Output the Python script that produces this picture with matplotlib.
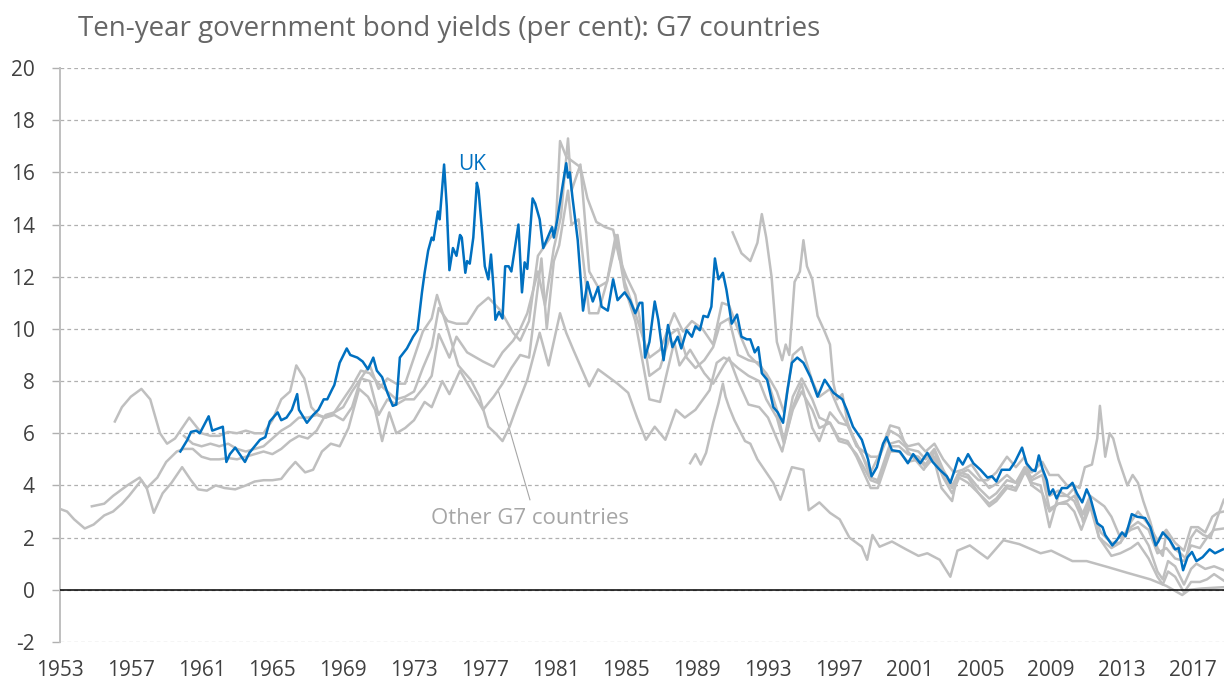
import matplotlib
matplotlib.use("Agg")
import matplotlib.pyplot as plt

# UK ten-year yield (per cent)
uk_years = [1959.8, 1960.2, 1960.4, 1960.7, 1960.9, 1961.4, 1961.6, 1962.2, 1962.4, 1962.6,
            1962.9, 1963.45, 1963.7, 1964.3, 1964.6, 1964.85, 1965.3, 1965.5, 1965.8, 1966.1,
            1966.4, 1966.5, 1966.95, 1967.3, 1967.6, 1967.9, 1968.1, 1968.35, 1968.5, 1968.8,
            1969.2, 1969.4, 1969.8, 1970.1, 1970.4, 1970.7, 1970.9, 1971.2, 1971.5, 1971.8,
            1972.0, 1972.2, 1972.6, 1972.95, 1973.2, 1973.45, 1973.6, 1973.8, 1974.0, 1974.1,
            1974.35, 1974.45, 1974.7, 1974.85, 1975.0, 1975.2, 1975.4, 1975.6, 1975.7, 1975.9,
            1976.0, 1976.15, 1976.35, 1976.55, 1976.65, 1976.85, 1977.0, 1977.2, 1977.35, 1977.5,
            1977.6, 1977.8, 1978.0, 1978.15, 1978.35, 1978.5, 1978.7, 1978.9, 1979.1, 1979.25,
            1979.4, 1979.7, 1979.85, 1980.1, 1980.3, 1980.55, 1980.8, 1980.9, 1981.1, 1981.35,
            1981.6, 1981.7, 1981.8, 1981.95, 1982.25, 1982.55, 1982.8, 1982.95, 1983.1, 1983.4,
            1983.6, 1983.95, 1984.25, 1984.5, 1984.9, 1985.2, 1985.5, 1985.75, 1985.9, 1986.05,
            1986.3, 1986.6, 1986.8, 1987.1, 1987.35, 1987.6, 1987.9, 1988.1, 1988.4, 1988.7,
            1988.9, 1989.15, 1989.35, 1989.6, 1989.8, 1990.0, 1990.2, 1990.45, 1990.65, 1990.95,
            1991.25, 1991.5, 1991.8, 1992.0, 1992.25, 1992.45, 1992.65, 1992.95, 1993.3, 1993.55,
            1993.85, 1994.1, 1994.35, 1994.65, 1995.0, 1995.4, 1995.8, 1996.2, 1996.7, 1997.2,
            1997.45, 1997.8, 1998.3, 1998.65, 1998.85, 1999.15, 1999.5, 1999.7, 2000.0, 2000.45,
            2000.9, 2001.2, 2001.6, 2002.0, 2002.3, 2002.7, 2003.1, 2003.3, 2003.55, 2003.75,
            2004.0, 2004.3, 2004.6, 2005.0, 2005.4, 2005.65, 2005.9, 2006.2, 2006.65, 2006.95,
            2007.35, 2007.6, 2007.9, 2008.1, 2008.3, 2008.5, 2008.75, 2008.9, 2009.1, 2009.3,
            2009.6, 2009.9, 2010.2, 2010.45, 2010.75, 2011.0, 2011.2, 2011.6, 2011.9, 2012.05,
            2012.45, 2012.7, 2013.0, 2013.2, 2013.55, 2013.85, 2014.3, 2014.6, 2014.9, 2015.05,
            2015.3, 2015.5, 2015.7, 2016.0, 2016.2, 2016.45, 2016.7, 2016.95, 2017.2, 2017.55,
            2017.95, 2018.25, 2018.7]
uk_yields = [5.3, 5.75, 6.05, 6.1, 6.0, 6.65, 6.1, 6.25, 4.9, 5.2,
             5.45, 4.9, 5.25, 5.75, 5.85, 6.45, 6.8, 6.5, 6.6, 6.9,
             7.5, 6.9, 6.4, 6.7, 6.9, 7.3, 7.3, 7.65, 7.85, 8.7,
             9.25, 9.0, 8.9, 8.75, 8.45, 8.9, 8.4, 8.15, 7.55, 7.05,
             7.1, 8.9, 9.25, 9.7, 9.95, 11.4, 12.15, 13.0, 13.5, 13.4,
             14.5, 14.2, 16.3, 14.7, 12.25, 13.1, 12.8, 13.6, 13.5, 12.15,
             12.6, 12.5, 13.5, 15.6, 15.3, 13.7, 12.4, 11.9, 12.85, 11.5,
             10.35, 10.65, 10.4, 12.4, 12.4, 12.2, 13.1, 14.0, 11.4, 12.55,
             12.3, 15.0, 14.8, 14.2, 13.1, 13.5, 13.9, 13.5, 14.2, 15.3,
             16.35, 15.8, 16.0, 15.05, 13.4, 10.7, 11.8, 11.4, 11.05, 11.6,
             10.85, 10.7, 11.9, 11.1, 11.4, 11.1, 10.6, 11.0, 11.0, 8.9,
             9.5, 11.05, 10.35, 8.8, 10.15, 9.3, 9.7, 9.25, 9.95, 9.7,
             10.1, 9.95, 10.5, 10.45, 10.85, 12.7, 11.9, 12.15, 11.5, 10.2,
             10.55, 9.7, 9.6, 9.6, 9.1, 9.3, 8.3, 8.05, 7.0, 6.8,
             6.4, 7.65, 8.7, 8.9, 8.7, 8.15, 7.4, 8.05, 7.55, 7.3,
             6.9, 6.25, 5.75, 5.0, 4.35, 4.7, 5.6, 5.85, 5.35, 5.3,
             4.85, 5.2, 4.85, 5.25, 4.9, 4.6, 4.35, 4.1, 4.6, 5.05,
             4.8, 5.2, 4.85, 4.6, 4.3, 4.35, 4.15, 4.6, 4.6, 4.9,
             5.45, 4.85, 4.6, 4.55, 5.15, 4.65, 4.2, 3.65, 3.85, 3.5,
             3.9, 3.9, 4.1, 3.7, 3.35, 3.85, 3.55, 2.55, 2.4, 2.1,
             1.7, 1.9, 2.2, 2.05, 2.9, 2.8, 2.75, 2.4, 1.7, 1.85,
             2.2, 2.05, 1.9, 1.55, 1.6, 0.75, 1.25, 1.45, 1.1, 1.25,
             1.55, 1.4, 1.55]

# other G7 countries (all drawn in grey)
us_years = [1953.0, 1953.4, 1953.8, 1954.4, 1954.9, 1955.5, 1956.0, 1956.5, 1956.9, 1957.6,
            1957.9, 1958.3, 1958.8, 1959.3, 1959.9, 1960.4, 1960.8, 1961.3, 1961.8, 1962.3,
            1962.9, 1963.5, 1964.0, 1964.5, 1965.0, 1965.5, 1965.9, 1966.3, 1966.85, 1967.3,
            1967.8, 1968.3, 1968.8, 1969.3, 1969.9, 1970.4, 1970.8, 1971.2, 1971.6, 1972.0,
            1972.5, 1973.0, 1973.6, 1974.0, 1974.6, 1975.0, 1975.6, 1976.2, 1976.9, 1977.5,
            1978.0, 1978.5, 1979.0, 1979.5, 1980.2, 1980.5, 1980.9, 1981.2, 1981.7, 1981.9,
            1982.3, 1982.9, 1983.4, 1983.9, 1984.4, 1984.9, 1985.5, 1986.3, 1986.9, 1987.7,
            1988.0, 1988.6, 1989.4, 1989.9, 1990.5, 1990.8, 1991.3, 1991.9, 1992.5, 1993.0,
            1993.8, 1994.4, 1994.9, 1995.5, 1995.9, 1996.5, 1997.0, 1997.5, 1998.0, 1998.8,
            1999.3, 1999.9, 2000.4, 2000.9, 2001.3, 2001.8, 2002.3, 2002.8, 2003.4, 2003.7,
            2004.3, 2004.9, 2005.4, 2005.9, 2006.5, 2007.0, 2007.5, 2007.9, 2008.4, 2008.9,
            2009.4, 2009.9, 2010.3, 2010.8, 2011.2, 2011.7, 2012.4, 2012.9, 2013.5, 2013.9,
            2014.5, 2015.0, 2015.5, 2016.0, 2016.5, 2016.9, 2017.3, 2017.7, 2018.1, 2018.4,
            2018.75]
us_yields = [3.1, 3.0, 2.7, 2.35, 2.5, 2.85, 3.0, 3.3, 3.6, 4.2,
             3.9, 2.95, 3.7, 4.1, 4.7, 4.2, 3.85, 3.8, 4.0, 3.9,
             3.85, 4.0, 4.15, 4.2, 4.2, 4.25, 4.6, 4.9, 4.5, 4.6,
             5.3, 5.6, 5.5, 6.2, 7.7, 7.4, 6.9, 5.7, 6.8, 6.0,
             6.2, 6.5, 7.2, 7.0, 8.0, 7.5, 8.4, 7.7, 6.9, 7.4,
             7.9, 8.5, 9.0, 8.9, 12.7, 10.0, 12.6, 13.2, 15.3, 14.0,
             14.2, 10.6, 10.6, 11.8, 13.6, 11.6, 10.3, 7.3, 7.2, 9.5,
             8.6, 9.2, 8.3, 7.9, 8.6, 8.9, 8.0, 7.1, 7.0, 6.6,
             5.3, 7.0, 7.9, 6.2, 5.7, 6.8, 6.4, 6.3, 5.6, 4.5,
             5.2, 6.3, 6.2, 5.3, 5.0, 4.6, 5.2, 3.9, 3.4, 4.4,
             4.6, 4.2, 4.2, 4.5, 5.1, 4.7, 5.1, 4.1, 4.0, 2.4,
             3.6, 3.6, 3.9, 2.6, 3.5, 2.0, 1.6, 1.8, 2.6, 3.0,
             2.5, 1.9, 2.3, 1.8, 1.5, 2.4, 2.4, 2.2, 2.8, 2.95,
             3.0]

canada_years = [1954.8, 1955.5, 1956.0, 1956.8, 1957.5, 1957.9, 1958.5, 1959.0, 1959.6, 1960.0,
                1960.5, 1961.0, 1961.5, 1962.0, 1962.5, 1963.0, 1963.5, 1964.0, 1964.5, 1965.0,
                1965.5, 1966.0, 1966.5, 1967.0, 1967.5, 1968.0, 1968.5, 1969.0, 1969.5, 1970.0,
                1970.5, 1971.0, 1971.5, 1972.0, 1972.5, 1973.0, 1973.6, 1974.0, 1974.4, 1975.0,
                1975.4, 1976.0, 1976.9, 1977.5, 1978.0, 1978.6, 1979.0, 1979.4, 1980.0, 1980.4,
                1980.9, 1981.3, 1981.7, 1981.9, 1982.4, 1982.9, 1983.4, 1983.9, 1984.5, 1984.9,
                1985.5, 1986.3, 1986.9, 1987.7, 1988.2, 1988.7, 1989.3, 1989.9, 1990.4, 1990.8,
                1991.4, 1991.9, 1992.5, 1992.9, 1993.5, 1993.9, 1994.4, 1994.9, 1995.5, 1995.9,
                1996.5, 1997.0, 1997.5, 1998.0, 1998.8, 1999.3, 1999.9, 2000.4, 2000.9, 2001.5,
                2001.9, 2002.4, 2002.9, 2003.5, 2004.0, 2004.5, 2005.0, 2005.5, 2006.0, 2006.5,
                2007.0, 2007.5, 2007.9, 2008.5, 2008.9, 2009.4, 2009.9, 2010.3, 2010.8, 2011.2,
                2011.8, 2012.4, 2012.9, 2013.5, 2013.9, 2014.5, 2015.0, 2015.5, 2016.0, 2016.5,
                2016.9, 2017.4, 2017.8, 2018.2, 2018.75]
canada_yields = [3.2, 3.3, 3.6, 4.0, 4.3, 3.9, 4.3, 4.9, 5.3, 5.4,
                 5.4, 5.1, 5.0, 5.0, 5.05, 5.0, 5.1, 5.2, 5.3, 5.2,
                 5.4, 5.7, 5.9, 5.8, 6.1, 6.7, 6.8, 7.0, 7.6, 8.1,
                 8.0, 6.7, 7.3, 7.1, 7.3, 7.3, 7.8, 8.2, 9.8, 8.9,
                 9.7, 9.1, 8.75, 8.55, 9.1, 9.55, 10.0, 10.6, 12.2, 10.9,
                 13.1, 14.3, 17.3, 15.3, 16.3, 12.2, 11.6, 11.8, 13.6, 11.8,
                 10.6, 8.9, 9.2, 10.6, 9.9, 10.3, 10.0, 9.4, 11.0, 10.9,
                 9.8, 9.0, 8.6, 8.3, 7.6, 6.8, 9.0, 9.3, 8.0, 7.4,
                 7.7, 6.9, 6.3, 5.5, 5.1, 5.1, 6.1, 5.9, 5.5, 5.6,
                 5.3, 5.6, 5.0, 4.5, 4.6, 4.8, 4.3, 3.9, 4.1, 4.4,
                 4.1, 4.6, 4.0, 3.7, 3.0, 3.3, 3.4, 3.6, 2.9, 3.3,
                 2.2, 1.8, 1.8, 2.4, 2.6, 2.3, 1.4, 1.6, 1.2, 1.1,
                 1.7, 1.6, 2.0, 2.3, 2.35]

germany_years = [1956.1, 1956.5, 1957.0, 1957.6, 1958.1, 1958.65, 1959.05, 1959.5, 1960.0, 1960.3,
                 1961.0, 1961.5, 1962.0, 1962.5, 1963.0, 1963.5, 1964.0, 1964.5, 1965.0, 1965.5,
                 1966.0, 1966.35, 1966.8, 1967.2, 1967.6, 1968.0, 1968.5, 1969.0, 1969.5, 1970.0,
                 1970.5, 1971.0, 1971.5, 1972.0, 1972.5, 1973.0, 1973.5, 1974.0, 1974.3, 1974.9,
                 1975.5, 1976.2, 1976.7, 1977.2, 1977.6, 1978.0, 1978.4, 1978.8, 1979.4, 1980.1,
                 1980.6, 1981.25, 1981.6, 1982.0, 1982.9, 1983.4, 1984.0, 1984.5, 1985.1, 1985.6,
                 1986.1, 1986.6, 1987.2, 1987.8, 1988.3, 1988.9, 1989.7, 1990.1, 1990.5, 1990.8,
                 1991.3, 1991.9, 1992.5, 1992.9, 1993.5, 1993.9, 1994.4, 1994.9, 1995.5, 1995.9,
                 1996.5, 1997.0, 1997.5, 1998.0, 1998.8, 1999.2, 1999.9, 2000.4, 2000.9, 2001.5,
                 2001.9, 2002.4, 2002.9, 2003.4, 2003.8, 2004.3, 2004.9, 2005.5, 2005.9, 2006.5,
                 2007.0, 2007.5, 2007.9, 2008.5, 2008.9, 2009.4, 2009.9, 2010.3, 2010.7, 2011.2,
                 2011.7, 2012.4, 2012.9, 2013.5, 2013.9, 2014.5, 2015.0, 2015.3, 2015.6, 2016.0,
                 2016.5, 2016.9, 2017.4, 2017.8, 2018.2, 2018.75]
germany_yields = [6.45, 7.0, 7.4, 7.7, 7.3, 6.0, 5.6, 5.8, 6.3, 6.6,
                  6.0, 5.9, 5.9, 6.05, 6.0, 6.1, 6.0, 6.0, 6.5, 7.3,
                  7.6, 8.6, 8.1, 7.0, 6.7, 6.6, 6.7, 6.5, 7.0, 8.1,
                  8.6, 7.7, 8.1, 7.9, 7.9, 8.9, 9.9, 10.4, 11.3, 10.0,
                  8.6, 8.05, 7.4, 6.25, 6.0, 5.7, 6.25, 7.0, 8.05, 9.85,
                  8.6, 10.6, 9.85, 9.2, 7.8, 8.45, 8.15, 7.9, 7.55, 6.6,
                  5.75, 6.25, 5.75, 6.9, 6.6, 6.9, 7.65, 8.7, 8.9, 8.8,
                  8.5, 8.2, 8.0, 7.3, 6.6, 5.6, 6.9, 7.6, 6.9, 6.2,
                  6.4, 5.8, 5.7, 5.1, 3.9, 3.9, 5.3, 5.3, 4.9, 5.0,
                  4.7, 5.1, 4.3, 3.7, 4.3, 4.1, 3.7, 3.2, 3.4, 3.9,
                  3.8, 4.5, 4.2, 4.4, 3.1, 3.3, 3.3, 3.0, 2.3, 3.2,
                  2.0, 1.3, 1.4, 1.6, 1.8, 1.2, 0.5, 0.2, 0.7, 0.5,
                  -0.1, 0.3, 0.3, 0.4, 0.6, 0.35]

france_years = [1960.0, 1960.5, 1961.0, 1961.5, 1962.0, 1962.5, 1963.0, 1963.5, 1964.0, 1964.5,
                1965.0, 1965.5, 1966.0, 1966.5, 1967.0, 1967.5, 1968.0, 1968.5, 1969.0, 1969.5,
                1970.0, 1970.5, 1971.0, 1971.5, 1972.0, 1972.5, 1973.0, 1973.5, 1974.0, 1974.4,
                1974.9, 1975.4, 1976.0, 1976.6, 1977.2, 1977.9, 1978.6, 1979.0, 1979.5, 1980.0,
                1980.5, 1981.0, 1981.25, 1981.6, 1982.0, 1982.4, 1982.8, 1983.3, 1983.8, 1984.25,
                1984.6, 1985.0, 1985.5, 1986.0, 1986.3, 1986.9, 1987.5, 1987.9, 1988.4, 1988.9,
                1989.4, 1989.9, 1990.3, 1990.8, 1991.3, 1991.9, 1992.5, 1992.9, 1993.5, 1993.9,
                1994.4, 1994.9, 1995.5, 1995.9, 1996.5, 1997.0, 1997.5, 1998.0, 1998.8, 1999.2,
                1999.9, 2000.4, 2000.9, 2001.5, 2001.9, 2002.4, 2002.9, 2003.4, 2003.8, 2004.3,
                2004.9, 2005.5, 2005.9, 2006.5, 2007.0, 2007.5, 2007.9, 2008.5, 2008.9, 2009.4,
                2009.9, 2010.3, 2010.7, 2011.2, 2011.8, 2012.0, 2012.4, 2012.9, 2013.5, 2013.9,
                2014.5, 2015.0, 2015.3, 2015.6, 2016.0, 2016.5, 2016.9, 2017.2, 2017.7, 2018.2,
                2018.75]
france_yields = [5.9, 5.6, 5.5, 5.6, 5.5, 5.6, 5.4, 5.3, 5.4, 5.5,
                 5.8, 6.1, 6.3, 6.6, 6.6, 6.7, 6.6, 6.8, 7.3, 7.8,
                 8.4, 8.3, 7.9, 7.6, 7.3, 7.4, 7.6, 8.5, 9.3, 10.8,
                 10.3, 10.2, 10.2, 10.85, 11.2, 10.7, 9.85, 9.55, 10.3, 12.8,
                 13.3, 13.8, 17.2, 16.6, 16.4, 16.2, 15.0, 14.1, 13.9, 13.8,
                 12.7, 12.0, 11.3, 9.5, 8.2, 8.5, 9.8, 10.0, 8.9, 8.5,
                 8.8, 9.3, 10.2, 10.4, 9.0, 8.8, 8.7, 8.2, 6.9, 5.7,
                 7.4, 8.1, 7.3, 6.6, 6.4, 5.7, 5.6, 5.2, 4.2, 4.1,
                 5.5, 5.5, 5.2, 5.1, 4.8, 5.3, 4.4, 3.9, 4.4, 4.3,
                 3.7, 3.3, 3.5, 4.0, 3.9, 4.6, 4.3, 4.6, 3.6, 3.8,
                 3.6, 3.4, 2.8, 3.6, 3.3, 3.2, 2.8, 2.0, 2.3, 2.4,
                 1.7, 0.7, 0.4, 1.1, 0.9, 0.2, 0.8, 1.0, 0.8, 0.9,
                 0.75]

italy_years = [1991.0, 1991.5, 1992.0, 1992.4, 1992.65, 1992.9, 1993.2, 1993.5, 1993.8, 1994.0,
               1994.2, 1994.5, 1994.8, 1995.0, 1995.2, 1995.5, 1995.8, 1996.2, 1996.5, 1996.7,
               1996.9, 1997.2, 1997.5, 1997.9, 1998.3, 1998.8, 1999.2, 1999.9, 2000.4, 2000.9,
               2001.5, 2001.9, 2002.4, 2002.9, 2003.4, 2003.8, 2004.3, 2004.9, 2005.5, 2005.9,
               2006.5, 2007.0, 2007.5, 2007.9, 2008.5, 2008.9, 2009.4, 2009.9, 2010.3, 2010.6,
               2010.9, 2011.3, 2011.6, 2011.75, 2012.05, 2012.3, 2012.5, 2012.8, 2013.3, 2013.6,
               2013.9, 2014.2, 2014.6, 2015.0, 2015.3, 2015.5, 2015.9, 2016.3, 2016.6, 2016.9,
               2017.2, 2017.6, 2018.0, 2018.4, 2018.75]
italy_yields = [13.7, 12.9, 12.6, 13.3, 14.4, 13.5, 12.0, 9.5, 8.8, 9.4,
                9.0, 11.8, 12.2, 13.4, 12.4, 11.9, 10.5, 9.9, 9.4, 7.9,
                7.3, 7.5, 6.4, 5.7, 5.2, 4.3, 4.2, 5.6, 5.7, 5.4,
                5.3, 5.0, 5.4, 4.6, 4.0, 4.5, 4.4, 3.9, 3.5, 3.7,
                4.2, 4.1, 4.7, 4.5, 4.9, 4.4, 4.4, 4.0, 4.0, 3.9,
                4.7, 4.8, 5.8, 7.05, 5.1, 6.0, 5.8, 5.0, 4.0, 4.4,
                4.1, 3.4, 2.6, 1.6, 1.3, 2.2, 1.6, 1.4, 1.2, 2.0,
                2.3, 2.1, 2.0, 2.8, 3.45]

japan_years = [1988.6, 1988.9, 1989.2, 1989.5, 1989.9, 1990.2, 1990.45, 1990.6, 1990.8, 1991.1,
               1991.4, 1991.7, 1992.0, 1992.4, 1992.7, 1993.3, 1993.7, 1994.35, 1995.0, 1995.3,
               1995.9, 1996.5, 1997.05, 1997.6, 1998.3, 1998.6, 1998.9, 1999.3, 2000.0, 2000.8,
               2001.5, 2002.0, 2002.7, 2003.3, 2003.7, 2004.4, 2005.4, 2006.3, 2007.2, 2008.4,
               2009.0, 2010.2, 2011.0, 2012.3, 2013.3, 2014.6, 2015.5, 2016.4, 2016.8, 2017.5,
               2018.75]
japan_yields = [4.85, 5.2, 4.8, 5.25, 6.4, 7.15, 7.9, 7.4, 7.0, 6.5,
                6.1, 5.7, 5.6, 5.0, 4.7, 4.1, 3.45, 4.7, 4.6, 3.05,
                3.35, 2.95, 2.7, 2.0, 1.65, 1.15, 2.1, 1.65, 1.85, 1.55,
                1.3, 1.4, 1.15, 0.5, 1.5, 1.7, 1.2, 1.9, 1.75, 1.4,
                1.5, 1.1, 1.1, 0.85, 0.65, 0.4, 0.15, -0.2, 0.0, 0.05,
                0.1]

others = [(us_years, us_yields), (canada_years, canada_yields),
          (germany_years, germany_yields), (france_years, france_yields),
          (italy_years, italy_yields), (japan_years, japan_yields)]

year_ticks = list(range(1953, 2018, 4))
yield_ticks = list(range(-2, 21, 2))

UK_BLUE = "#0070c0"
GREY = "#bfbfbf"

plt.rcParams["font.family"] = ["Open Sans", "DejaVu Sans"]

fig = plt.figure(figsize=(12.24, 6.82), dpi=100)
ax = fig.add_axes([0.049, 0.0587, 0.951, 0.8416])

for yrs, vals in others:
    ax.plot(yrs, vals, color=GREY, lw=1.8, zorder=2)
ax.plot(uk_years, uk_yields, color=UK_BLUE, lw=1.8, zorder=3)

ax.axhline(0, color="black", lw=1.1, zorder=4)

# labels
ax.text(1975.5, 16.3, "UK", color=UK_BLUE, fontsize=15, va="center", ha="left")
ax.plot([1977.75, 1979.55], [7.66, 3.45], color="#a6a6a6", lw=0.8, zorder=1)
ax.text(1979.55, 2.75, "Other G7 countries", color="#a6a6a6", fontsize=16,
        va="center", ha="center")

ax.set_xlim(1953, 2018.76)
ax.set_ylim(-2, 20)
ax.set_xticks(year_ticks)
ax.set_yticks(yield_ticks)
ax.set_yticklabels([str(v) for v in yield_ticks])
ax.grid(axis="y", color="#b0b0b0", lw=0.9, dashes=(3, 2.5), zorder=0)

for side in ["top", "right", "bottom"]:
    ax.spines[side].set_visible(False)
ax.spines["left"].set_color(GREY)
ax.spines["left"].set_linewidth(1.4)

ax.tick_params(axis="y", length=6, width=1, color="#b0b0b0", labelsize=15,
               labelcolor="#404040", pad=12)
ax.tick_params(axis="x", length=0, labelsize=15, labelcolor="#404040", pad=13)

fig.text(0.064, 0.958, "Ten-year government bond yields (per cent): G7 countries",
         fontsize=20, color="#666666", va="center", ha="left")

fig.savefig("out.png", dpi=100)
